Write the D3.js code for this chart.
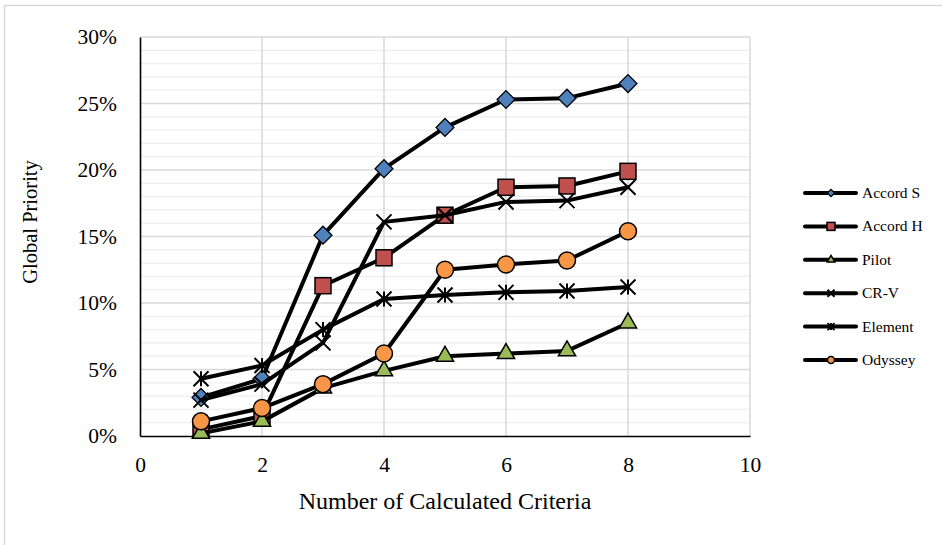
<!DOCTYPE html>
<html><head><meta charset="utf-8">
<script src="https://cdn.jsdelivr.net/npm/d3@7"></script>
<style>
body{margin:0;background:#fff;}
svg{display:block;font-family:"Liberation Serif","Times New Roman",serif;}
</style></head>
<body><svg id="c" width="942" height="545"></svg>
<script>
const criteria = [1,2,3,4,5,6,7,8];
const seriesNames = ["Accord S","Accord H","Pilot","CR-V","Element","Odyssey"];
const accordS = [2.9, 4.3, 15.1, 20.1, 23.2, 25.3, 25.4, 26.5];
const accordH = [0.5, 1.5, 11.3, 13.4, 16.6, 18.7, 18.8, 19.9];
const pilot   = [0.2, 1.1, 3.6, 4.9, 6.0, 6.2, 6.4, 8.5];
const crv     = [2.7, 3.9, 7.0, 16.1, 16.6, 17.6, 17.7, 18.7];
const element = [4.3, 5.3, 8.0, 10.3, 10.6, 10.8, 10.9, 11.2];
const odyssey = [1.1, 2.1, 3.9, 6.2, 12.5, 12.9, 13.2, 15.4];
const xTicks = [0,2,4,6,8,10];
const yTicks = [0,5,10,15,20,25,30];
const yMinor = d3.range(0,31,1);

const seriesValues = [accordS, accordH, pilot, crv, element, odyssey];
const markerTypes = ["diamond","square","triangle","x","star","circle"];
const fills = ["#4F81BD","#C0504D","#9BBB59","none","none","#F79646"];

const svg = d3.select("#c");
// outer chart border
svg.append("rect").attr("x",4.5).attr("y",5.5).attr("width",945).attr("height",560)
  .attr("fill","#fff").attr("stroke","#D9D9D9").attr("stroke-width",1.5);

const x = d3.scaleLinear().domain([0,10]).range([140,750]);
const y = d3.scaleLinear().domain([0,30]).range([436,37]);

// minor horizontal gridlines
svg.append("g").selectAll("line").data(yMinor.filter(v=>v%5!==0)).join("line")
  .attr("x1",x(0)).attr("x2",x(10)).attr("y1",d=>y(d)).attr("y2",d=>y(d))
  .attr("stroke","#EEEEEE").attr("stroke-width",1.2);
// major gridlines
svg.append("g").selectAll("line").data(yTicks.filter(v=>v>0)).join("line")
  .attr("x1",x(0)).attr("x2",x(10)).attr("y1",d=>y(d)).attr("y2",d=>y(d))
  .attr("stroke","#D9D9D9").attr("stroke-width",1.5);
svg.append("g").selectAll("line").data(xTicks.filter(v=>v>0)).join("line")
  .attr("x1",d=>x(d)).attr("x2",d=>x(d)).attr("y1",y(0)).attr("y2",y(30))
  .attr("stroke","#D9D9D9").attr("stroke-width",1.5);

// axes
const yAxis = svg.append("g").attr("transform",`translate(${x(0)},0)`)
  .call(d3.axisLeft(y).tickValues(yTicks).tickSize(0).tickPadding(23).tickFormat(d=>d+"%"));
const xAxis = svg.append("g").attr("transform",`translate(0,${y(0)})`)
  .call(d3.axisBottom(x).tickValues(xTicks).tickSize(0).tickPadding(21));
[yAxis,xAxis].forEach(a=>{
  a.select(".domain").attr("stroke","#000").attr("stroke-width",1.6);
  a.selectAll("text").attr("font-family","Liberation Serif").attr("font-size",21.5).attr("fill","#000");
});

// axis titles
svg.append("text").attr("x",445).attr("y",509).attr("text-anchor","middle")
  .attr("font-size",24).text("Number of Calculated Criteria");
svg.append("text").attr("transform","translate(37,222) rotate(-90)").attr("text-anchor","middle")
  .attr("font-size",20.5).text("Global Priority");

function drawMarker(g, type, fill, s){
  if(type==="diamond"){
    g.append("path").attr("d",d3.symbol(d3.symbolSquare, s*s*0.55)()).attr("transform","rotate(45)")
      .attr("fill",fill).attr("stroke","#000").attr("stroke-width",1.3);
  } else if(type==="square"){
    g.append("rect").attr("x",-s/2).attr("y",-s/2).attr("width",s).attr("height",s)
      .attr("fill",fill).attr("stroke","#000").attr("stroke-width",1.5);
  } else if(type==="triangle"){
    g.append("path").attr("d",d3.symbol(d3.symbolTriangle, s*s*0.5)())
      .attr("fill",fill).attr("stroke","#000").attr("stroke-width",1.5);
  } else if(type==="circle"){
    g.append("circle").attr("r",s/2).attr("fill",fill).attr("stroke","#000").attr("stroke-width",1.5);
  } else {
    const h=s/2;
    g.append("path").attr("d",`M${-h},${-h}L${h},${h}M${-h},${h}L${h},${-h}`+(type==="star"?`M0,${-h}L0,${h}`:""))
      .attr("stroke","#000").attr("stroke-width",2).attr("fill","none");
  }
}

const line = d3.line().x((d,i)=>x(criteria[i])).y(d=>y(d));
const sizes = [17,16,16,15,15,17];
seriesValues.forEach((vals,si)=>{
  const g = svg.append("g");
  g.append("path").attr("d",line(vals)).attr("fill","none").attr("stroke","#000")
    .attr("stroke-width",4).attr("stroke-linejoin","round").attr("stroke-linecap","round");
  vals.forEach((v,i)=>{
    const m = g.append("g").attr("transform",`translate(${x(criteria[i])},${y(v)})`);
    drawMarker(m, markerTypes[si], fills[si], sizes[si]);
  });
});

// legend
const legY = d3.scalePoint().domain(seriesNames).range([193,360]);
seriesNames.forEach((n,si)=>{
  const yy = legY(n);
  const g = svg.append("g");
  g.append("line").attr("x1",805).attr("x2",856).attr("y1",yy).attr("y2",yy)
    .attr("stroke","#000").attr("stroke-width",4).attr("stroke-linecap","round");
  const m = g.append("g").attr("transform",`translate(831,${yy})`);
  drawMarker(m, markerTypes[si], fills[si], si===1?8:7);
  g.append("text").attr("x",862).attr("y",yy+5).attr("font-size",15.5).text(n);
});
</script></body></html>
